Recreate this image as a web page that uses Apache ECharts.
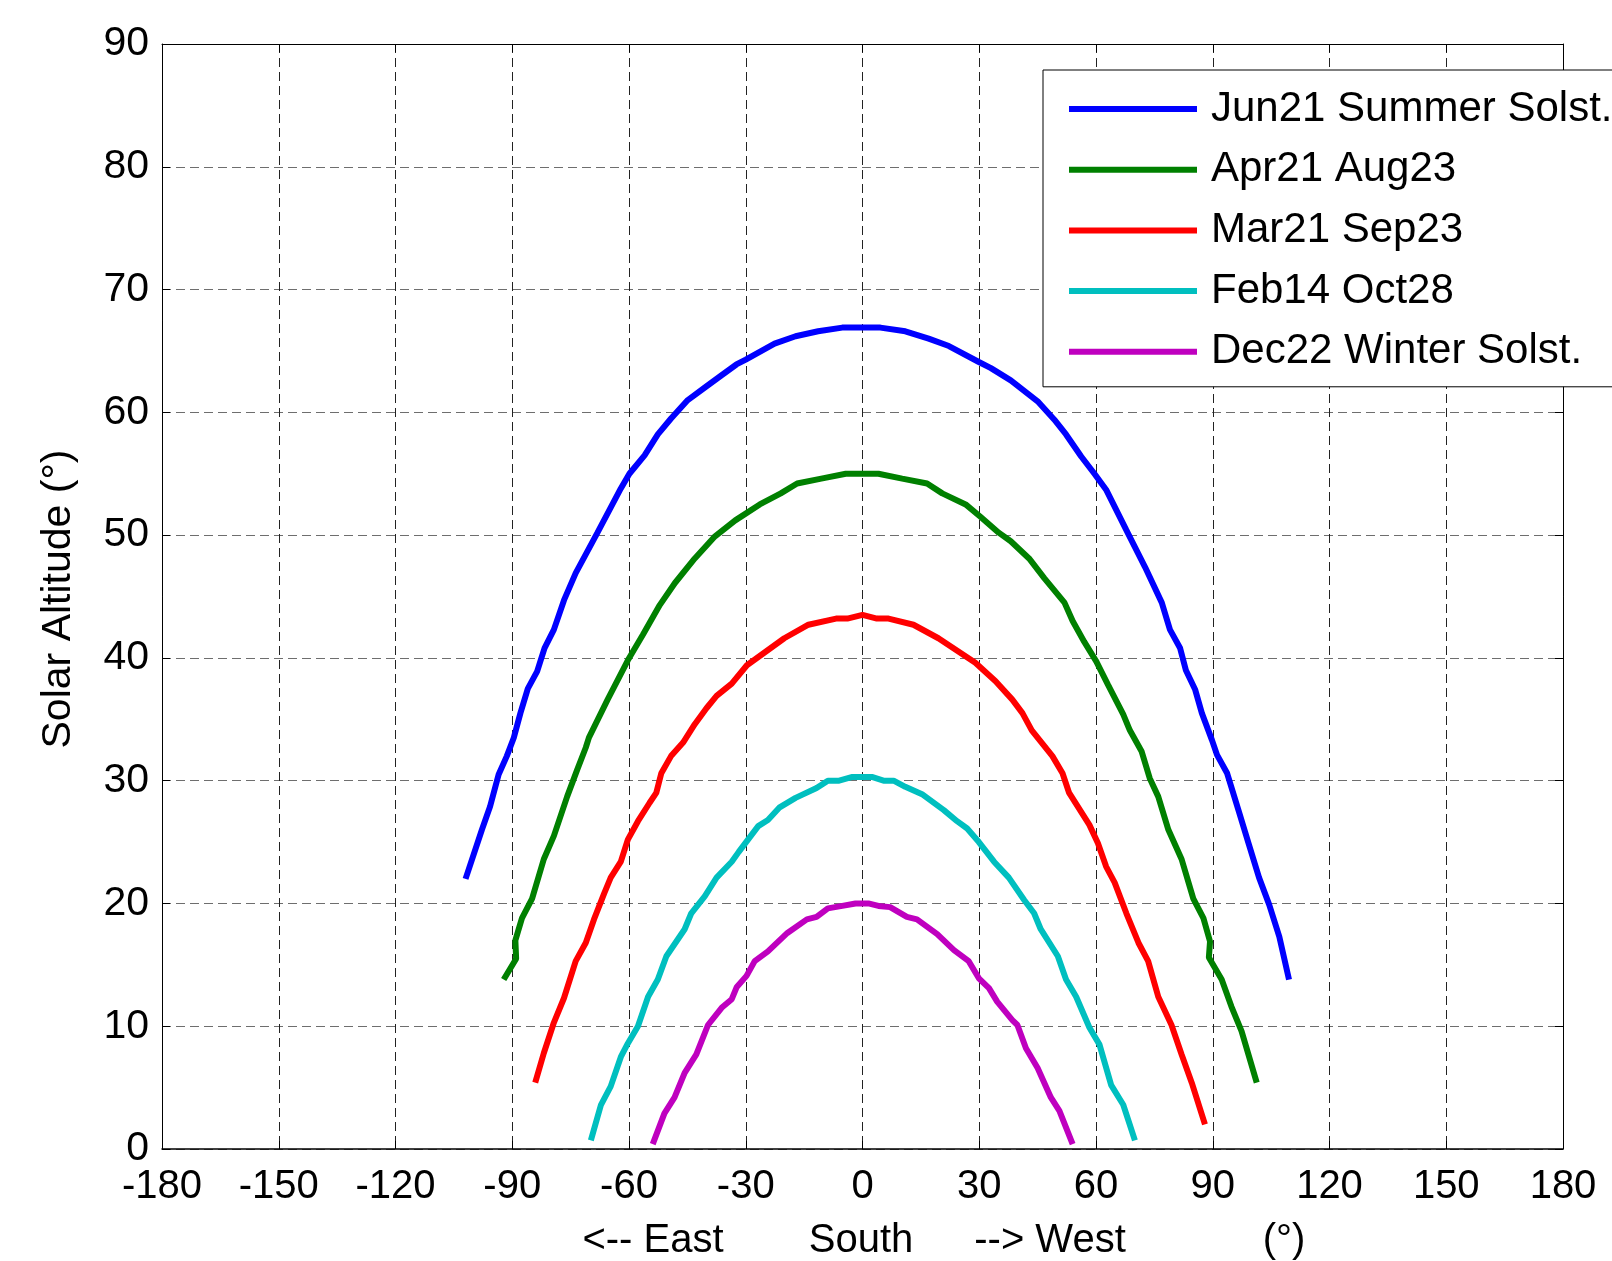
<!DOCTYPE html>
<html>
<head>
<meta charset="utf-8">
<script src="https://cdn.jsdelivr.net/npm/echarts@6/dist/echarts.min.js"></script>
<style>
html,body{margin:0;padding:0;background:#fff;}
#chart{width:1612px;height:1261px;}
</style>
</head>
<body>
<div id="chart"></div>
<script>
// Tick settings
var xTicks = { min: -180, max: 180, interval: 30 };
var yTicks = { min: 0, max: 90, interval: 10 };
var seriesNames = ['Jun21 Summer Solst.', 'Apr21 Aug23', 'Mar21 Sep23', 'Feb14 Oct28', 'Dec22 Winter Solst.'];
var seriesColors = ['#0000ff', '#008000', '#ff0000', '#00bfbf', '#bf00bf'];
var xTitleParts = ['<-- East', 'South', '--> West', '(°)'];
var yTitle = 'Solar Altitude (°)';

// [azimuth, altitude]
var jun21 = [[-102.0,22.0],[-97.8,26.0],[-95.7,27.9],[-93.5,30.5],[-91.4,32.0],[-89.6,33.5],[-87.9,35.5],[-86.0,37.5],[-83.6,38.9],[-81.7,40.8],[-79.3,42.3],[-76.7,44.7],[-73.7,46.9],[-68.1,50.2],[-62.1,53.8],[-59.9,55.0],[-56.0,56.5],[-52.6,58.2],[-49.2,59.5],[-44.9,61.0],[-40.6,62.0],[-36.3,63.0],[-32.4,63.9],[-30.0,64.3],[-22.6,65.6],[-17.2,66.2],[-11.4,66.6],[-5.2,66.9],[0,66.9],[4.6,66.9],[11.0,66.6],[17.0,66.0],[22.2,65.4],[29.9,64.1],[33.0,63.6],[38.1,62.6],[45.0,60.9],[49.3,59.4],[52.3,58.2],[56.2,56.4],[59.6,55.0],[62.6,53.7],[67.8,50.4],[72.6,47.4],[76.9,44.5],[79.0,42.3],[81.6,40.8],[83.1,39.0],[85.5,37.4],[87.2,35.5],[89.8,33.3],[91.1,32.1],[93.7,30.6],[96.7,27.5],[99.3,24.8],[101.9,22.1],[104.5,19.9],[107.1,17.3],[109.6,13.8]];
var apr21 = [[-92.2,13.8],[-89.0,15.5],[-89.2,17.0],[-87.5,18.8],[-84.9,20.4],[-81.9,23.6],[-79.3,25.5],[-75.9,28.7],[-73.3,30.9],[-71.1,32.7],[-70.3,33.5],[-65.5,36.6],[-60.3,39.8],[-56.4,41.9],[-52.1,44.3],[-48.2,46.1],[-43.1,48.1],[-37.9,49.9],[-32.7,51.2],[-26.4,52.5],[-21.0,53.4],[-16.8,54.2],[-10.6,54.6],[-4.3,55.0],[4.1,55.0],[10.2,54.6],[16.6,54.2],[20.5,53.4],[26.5,52.5],[30.3,51.5],[35.0,50.2],[38.1,49.5],[42.8,48.1],[46.7,46.5],[51.9,44.5],[54.0,43.0],[57.0,41.3],[60.1,39.7],[63.1,37.8],[67.0,35.4],[68.7,34.1],[71.7,32.4],[73.8,30.2],[76.0,28.7],[78.6,26.0],[82.0,23.6],[85.0,20.4],[87.6,18.8],[89.3,16.9],[89.0,15.6],[92.3,13.8],[94.8,11.6],[97.4,9.6],[101.3,5.4]];
var mar21 = [[-84.1,5.4],[-81.9,7.8],[-79.3,10.3],[-76.7,12.3],[-73.7,15.3],[-71.1,16.8],[-69.0,18.7],[-66.4,20.8],[-64.7,22.1],[-62.1,23.4],[-60.3,25.2],[-57.7,26.7],[-54.7,28.2],[-53.0,29.0],[-51.7,30.6],[-49.2,32.0],[-46.1,33.1],[-43.1,34.6],[-40.1,35.9],[-37.5,36.9],[-33.6,37.9],[-29.7,39.4],[-20.1,41.6],[-13.9,42.7],[-6.8,43.2],[-3.9,43.2],[0,43.5],[3.7,43.2],[6.7,43.2],[13.1,42.7],[19.5,41.6],[29.0,39.6],[34.2,38.1],[38.5,36.6],[41.1,35.5],[43.5,34.1],[48.8,32.0],[51.4,30.6],[53.1,29.0],[58.3,26.4],[60.5,24.9],[62.6,23.0],[64.8,21.7],[67.8,19.2],[70.9,16.8],[73.4,15.3],[76.0,12.4],[79.4,10.1],[82.0,7.7],[84.6,5.4],[88.0,2.0]];
var feb14 = [[-69.8,0.7],[-67.2,3.6],[-64.7,5.1],[-62.1,7.5],[-60.3,8.6],[-57.7,10.0],[-55.1,12.4],[-52.6,13.8],[-50.4,15.7],[-45.7,17.9],[-44.0,19.2],[-40.5,20.6],[-37.5,22.1],[-33.6,23.4],[-31.8,24.2],[-26.8,26.3],[-24.3,26.8],[-21.4,27.8],[-17.2,28.6],[-11.8,29.4],[-8.9,30.0],[-6.0,30.0],[-2.6,30.3],[2.4,30.3],[5.4,30.0],[8.0,30.0],[11.0,29.5],[15.3,28.9],[20.9,27.6],[24.3,26.7],[26.9,26.1],[29.9,25.0],[33.8,23.4],[37.6,22.1],[41.5,20.3],[44.1,19.2],[45.8,17.9],[50.2,15.7],[52.3,13.8],[54.9,12.4],[58.3,9.9],[60.9,8.5],[63.9,5.2],[67.0,3.6],[70.0,0.7]];
var dec22 = [[-53.9,0.4],[-50.9,2.9],[-48.3,4.2],[-45.7,6.2],[-42.7,7.7],[-39.7,10.1],[-36.2,11.5],[-33.6,12.2],[-32.3,13.2],[-29.8,14.1],[-27.7,15.3],[-24.3,16.1],[-19.3,17.6],[-14.3,18.7],[-11.8,18.9],[-8.9,19.6],[-5.2,19.8],[-1.8,20.0],[1.5,20.0],[4.1,19.8],[7.1,19.7],[11.4,18.9],[14.0,18.7],[19.2,17.5],[23.5,16.2],[27.3,15.3],[29.9,13.9],[32.5,13.1],[34.6,12.0],[38.5,10.5],[39.8,10.1],[42.0,8.2],[45.0,6.6],[48.4,4.2],[50.6,3.1],[54.0,0.4]];

var seriesData = [jun21, apr21, mar21, feb14, dec22];

var FONT = "'Liberation Sans', Arial, Helvetica, sans-serif";
var chart = echarts.init(document.getElementById('chart'), null, { renderer: 'canvas' });

var gridLeft = 162, gridRight = 49, gridTop = 44, gridBottom = 112;

var option = {
  backgroundColor: '#ffffff',
  animation: false,
  grid: { left: gridLeft, right: gridRight, top: gridTop, bottom: gridBottom, containLabel: false },
  xAxis: [
    {
      type: 'value', position: 'bottom', min: xTicks.min, max: xTicks.max, interval: xTicks.interval,
      axisLine: { show: true, onZero: false, lineStyle: { color: '#000', width: 1.5 } },
      axisTick: { show: true, inside: true, length: 8, lineStyle: { color: '#000' } },
      axisLabel: { show: true, margin: 18, fontSize: 40, color: '#000', fontFamily: FONT },
      splitLine: { show: true, lineStyle: { color: '#222', type: [9, 5], width: 1 } }
    },
    {
      type: 'value', position: 'top', min: xTicks.min, max: xTicks.max, interval: xTicks.interval,
      axisLine: { show: true, onZero: false, lineStyle: { color: '#000', width: 1 } },
      axisTick: { show: true, inside: true, length: 8, lineStyle: { color: '#000' } },
      axisLabel: { show: false },
      splitLine: { show: false }
    }
  ],
  yAxis: [
    {
      type: 'value', position: 'left', min: yTicks.min, max: yTicks.max, interval: yTicks.interval,
      axisLine: { show: true, onZero: false, lineStyle: { color: '#000', width: 1 } },
      axisTick: { show: true, inside: true, length: 8, lineStyle: { color: '#000' } },
      axisLabel: { show: true, margin: 13, fontSize: 41, color: '#000', fontFamily: FONT },
      splitLine: { show: true, lineStyle: { color: '#6e6e6e', type: [9, 5], width: 1 } }
    },
    {
      type: 'value', position: 'right', min: yTicks.min, max: yTicks.max, interval: yTicks.interval,
      axisLine: { show: true, onZero: false, lineStyle: { color: '#000', width: 1 } },
      axisTick: { show: true, inside: true, length: 8, lineStyle: { color: '#000' } },
      axisLabel: { show: false },
      splitLine: { show: false }
    }
  ],
  legend: {
    show: true,
    orient: 'vertical',
    left: 1043,
    top: 70,
    padding: [15, 60, 11, 26],
    itemGap: 12.7,
    itemWidth: 128,
    itemHeight: 6,
    icon: 'rect',
    backgroundColor: '#ffffff',
    borderColor: '#000',
    borderWidth: 1,
    borderRadius: 0,
    selectedMode: false,
    textStyle: { fontSize: 42, color: '#000', fontFamily: FONT, lineHeight: 48, padding: [0, 0, 0, 9] },
    data: seriesNames
  },
  series: seriesNames.map(function (name, i) {
    return {
      name: name,
      type: 'line',
      xAxisIndex: 0,
      yAxisIndex: 0,
      data: seriesData[i],
      showSymbol: false,
      symbol: 'none',
      smooth: false,
      clip: true,
      color: seriesColors[i],
      itemStyle: { color: seriesColors[i] },
      lineStyle: { color: seriesColors[i], width: 6 },
      z: 3
    };
  }),
  graphic: [
    { type: 'text', x: 59, y: 599, rotation: Math.PI / 2,
      style: { text: yTitle, fontSize: 41, fill: '#000', fontFamily: FONT, align: 'center', verticalAlign: 'middle' } },
    { type: 'text', x: 653, y: 1241,
      style: { text: xTitleParts[0], fontSize: 40, fill: '#000', fontFamily: FONT, align: 'center', verticalAlign: 'middle' } },
    { type: 'text', x: 861, y: 1241,
      style: { text: xTitleParts[1], fontSize: 40, fill: '#000', fontFamily: FONT, align: 'center', verticalAlign: 'middle' } },
    { type: 'text', x: 1050, y: 1241,
      style: { text: xTitleParts[2], fontSize: 40, fill: '#000', fontFamily: FONT, align: 'center', verticalAlign: 'middle' } },
    { type: 'text', x: 1284, y: 1241,
      style: { text: xTitleParts[3], fontSize: 40, fill: '#000', fontFamily: FONT, align: 'center', verticalAlign: 'middle' } }
  ]
};
chart.setOption(option);
</script>
</body>
</html>
